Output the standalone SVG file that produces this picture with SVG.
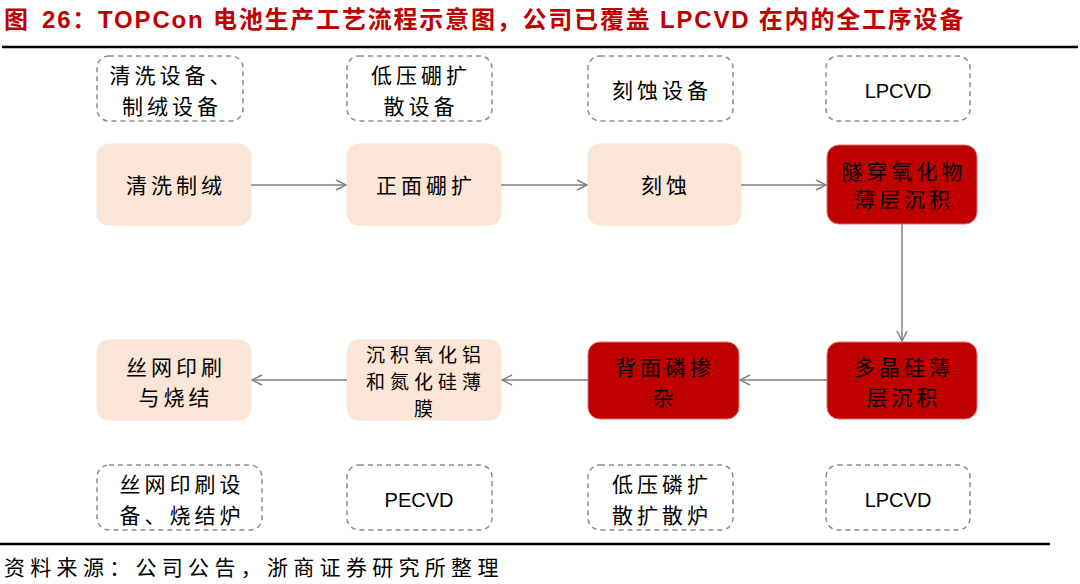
<svg xmlns="http://www.w3.org/2000/svg" width="1080" height="584" viewBox="0 0 1080 584">
<style>
.title{font-family:"Liberation Sans","Noto Sans CJK SC",sans-serif;font-weight:bold;font-size:24px;fill:#C00000;letter-spacing:1.8px}
.t{font-family:"Noto Sans CJK SC",sans-serif;font-size:21px;fill:#000;text-anchor:middle;letter-spacing:4px}
.t3{font-family:"Noto Sans CJK SC",sans-serif;font-size:19px;fill:#000;text-anchor:middle;letter-spacing:5px}
.lat{font-family:"Liberation Sans","Noto Sans CJK SC",sans-serif;font-size:20px;fill:#000;text-anchor:middle}
.src{font-family:"Noto Sans CJK SC",sans-serif;font-size:21px;fill:#000;letter-spacing:5.3px}
.dash{fill:#fff;stroke:#8c8c8c;stroke-width:1.5;stroke-dasharray:5,4}
.peach{fill:#FBE5D6;stroke:#FBE5D6;stroke-width:1}
.red{fill:#C00000;stroke:#E07070;stroke-width:1}
.conn{stroke:#808080;stroke-width:1.5;fill:none}
</style>
<defs>
<marker id="arr" viewBox="0 0 12 12" refX="11" refY="6" markerWidth="12" markerHeight="12" markerUnits="userSpaceOnUse" orient="auto">
<path d="M1,1 L11,6 L1,11" fill="none" stroke="#808080" stroke-width="1.5"/>
</marker>
</defs>
<rect width="1080" height="584" fill="#fff"/>
<text class="title" x="4" y="28"><tspan>图</tspan><tspan x="42">26：TOPCon 电池生产工艺流程示意图，公司已覆盖 LPCVD 在内的全工序设备</tspan></text>
<line x1="2" y1="47" x2="1078" y2="47" stroke="#000" stroke-width="2.5"/>

<g id="eq1"><rect class="dash" x="97" y="56" width="146" height="65" rx="12"/><text class="t" x="172" y="83">清洗设备、</text><text class="t" x="172" y="114">制绒设备</text></g>
<g id="eq2"><rect class="dash" x="347" y="56" width="145" height="65" rx="12"/><text class="t" x="421" y="83">低压硼扩</text><text class="t" x="421" y="114">散设备</text></g>
<g id="eq3"><rect class="dash" x="588" y="56" width="145" height="65" rx="12"/><text class="t" x="662" y="98">刻蚀设备</text></g>
<g id="eq4"><rect class="dash" x="826" y="56" width="144" height="65" rx="12"/><text class="lat" x="898" y="98">LPCVD</text></g>

<g id="p1"><rect class="peach" x="97" y="144" width="154" height="81" rx="12"/><text class="t" x="176" y="193">清洗制绒</text></g>
<g id="p2"><rect class="peach" x="347" y="144" width="154" height="81" rx="12"/><text class="t" x="426" y="193">正面硼扩</text></g>
<g id="p3"><rect class="peach" x="588" y="144" width="153" height="81" rx="12"/><text class="t" x="666" y="193">刻蚀</text></g>
<g id="p4"><rect class="red" x="827" y="145" width="150" height="79" rx="12"/><text class="t" x="904" y="179">隧穿氧化物</text><text class="t" x="904" y="207">薄层沉积</text></g>

<g id="p5"><rect class="red" x="827" y="342" width="150" height="77" rx="12"/><text class="t" x="904" y="375">多晶硅薄</text><text class="t" x="904" y="405">层沉积</text></g>
<g id="p6"><rect class="red" x="588" y="342" width="151" height="77" rx="12"/><text class="t" x="665" y="375">背面磷掺</text><text class="t" x="665" y="405">杂</text></g>
<g id="p7"><rect class="peach" x="347" y="340" width="154" height="80" rx="12"/><text class="t3" x="426" y="362">沉积氧化铝</text><text class="t3" x="426" y="389">和氮化硅薄</text><text class="t3" x="426" y="416">膜</text></g>
<g id="p8"><rect class="peach" x="97" y="340" width="154" height="80" rx="12"/><text class="t" x="176" y="375">丝网印刷</text><text class="t" x="176" y="405">与烧结</text></g>

<g id="eq8"><rect class="dash" x="97" y="465" width="165" height="65" rx="12"/><text class="t" x="182" y="492">丝网印刷设</text><text class="t" x="182" y="523">备、烧结炉</text></g>
<g id="eq7"><rect class="dash" x="347" y="465" width="145" height="65" rx="12"/><text class="lat" x="419" y="507">PECVD</text></g>
<g id="eq6"><rect class="dash" x="588" y="465" width="145" height="65" rx="12"/><text class="t" x="662" y="492">低压磷扩</text><text class="t" x="662" y="523">散扩散炉</text></g>
<g id="eq5"><rect class="dash" x="826" y="465" width="144" height="65" rx="12"/><text class="lat" x="898" y="507">LPCVD</text></g>

<g id="connectors">
<line class="conn" x1="251" y1="185" x2="346" y2="185" marker-end="url(#arr)"/>
<line class="conn" x1="501" y1="185" x2="587" y2="185" marker-end="url(#arr)"/>
<line class="conn" x1="741" y1="185" x2="826" y2="185" marker-end="url(#arr)"/>
<line class="conn" x1="902" y1="224" x2="902" y2="341" marker-end="url(#arr)"/>
<line class="conn" x1="827" y1="380" x2="740" y2="380" marker-end="url(#arr)"/>
<line class="conn" x1="588" y1="380" x2="502" y2="380" marker-end="url(#arr)"/>
<line class="conn" x1="347" y1="380" x2="252" y2="380" marker-end="url(#arr)"/>
</g>

<line x1="0" y1="544" x2="1050" y2="544" stroke="#000" stroke-width="2.5"/>
<text class="src" x="4" y="575">资料来源：公司公告，浙商证券研究所整理</text>
</svg>
